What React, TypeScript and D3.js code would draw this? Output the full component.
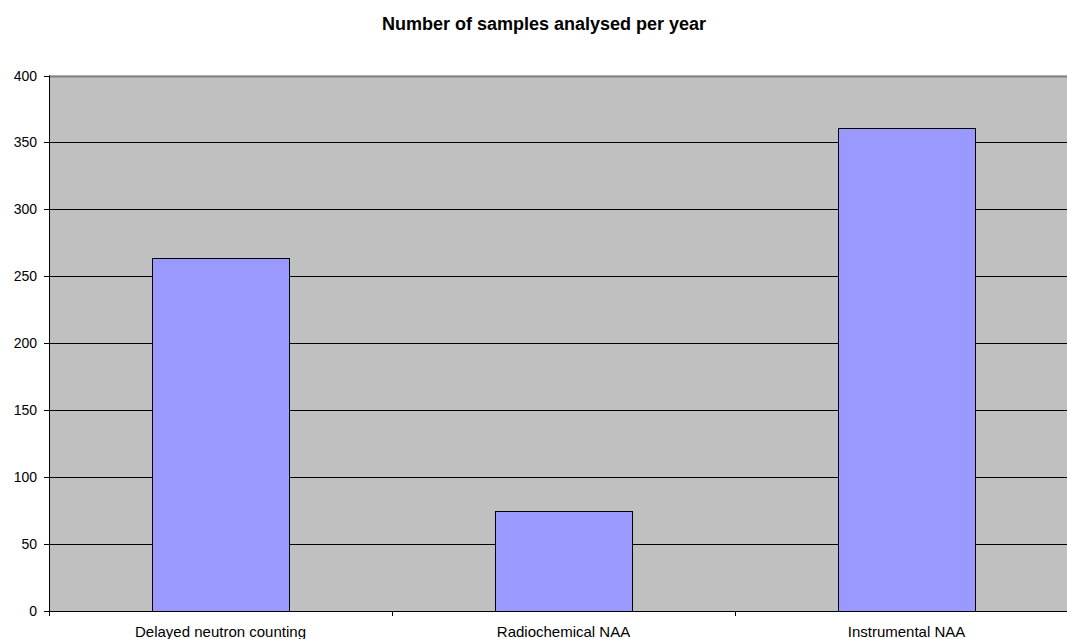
import React from "react";
import * as d3 from "d3";

// Samples analysed per year, by technique
const categories: string[] = ["Delayed neutron counting", "Radiochemical NAA", "Instrumental NAA"];
const samples: number[] = [264, 75, 361];
const yTicks: number[] = [0, 50, 100, 150, 200, 250, 300, 350, 400];

const W = 1067;
const H = 639;
const plot = { left: 49, right: 1078, top: 75.5, bottom: 611 };

export default function App() {
  const x = d3
    .scaleBand<string>()
    .domain(categories)
    .range([plot.left, plot.right])
    .paddingInner(0)
    .paddingOuter(0);
  const y = d3.scaleLinear().domain([0, 400]).range([plot.bottom, plot.top]);
  const barW = x.bandwidth() * 0.4;
  const font = "Arial, 'Liberation Sans', sans-serif";
  const snap = (v: number) => Math.round(v) + 0.5;

  return (
    <svg
      width={W}
      height={H}
      style={{ position: "absolute", left: 0, top: 0, display: "block" }}
      fontFamily={font}
    >
      <rect x={0} y={0} width={W} height={H} fill="#ffffff" />
      <text x={544} y={30} textAnchor="middle" fontSize={18} fontWeight="bold" fill="#000">
        Number of samples analysed per year
      </text>

      {/* plot background */}
      <rect
        x={plot.left}
        y={plot.top}
        width={plot.right - plot.left}
        height={plot.bottom - plot.top}
        fill="#c0c0c0"
      />

      {/* horizontal gridlines */}
      {yTicks.slice(1).map((t) => (
        <line
          key={t}
          x1={plot.left}
          x2={plot.right}
          y1={snap(y(t))}
          y2={snap(y(t))}
          stroke={t === 400 ? "#808080" : "#000"}
          strokeWidth={t === 400 ? 2 : 1}
        />
      ))}

      {/* bars */}
      {categories.map((c, i) => {
        const cx = (x(c) as number) + x.bandwidth() / 2;
        return (
          <rect
            key={c}
            x={snap(cx - barW / 2)}
            y={snap(y(samples[i]))}
            width={Math.round(barW)}
            height={Math.round(y(0) - y(samples[i]))}
            fill="#9999ff"
            stroke="#000"
            strokeWidth={1}
          />
        );
      })}

      {/* y axis */}
      <line x1={snap(plot.left)} x2={snap(plot.left)} y1={plot.top} y2={plot.bottom} stroke="#000" />
      {yTicks.map((t) => (
        <g key={t}>
          <line x1={plot.left - 5} x2={plot.left} y1={snap(y(t))} y2={snap(y(t))} stroke="#000" />
          <text x={37} y={y(t) + 5} textAnchor="end" fontSize={14} fill="#000">
            {t}
          </text>
        </g>
      ))}

      {/* x axis */}
      <line x1={plot.left} x2={plot.right} y1={snap(plot.bottom)} y2={snap(plot.bottom)} stroke="#000" />
      {categories.map((c) => (
        <line
          key={c}
          x1={snap(x(c) as number)}
          x2={snap(x(c) as number)}
          y1={plot.bottom}
          y2={plot.bottom + 5}
          stroke="#000"
        />
      ))}
      {categories.map((c) => (
        <text
          key={c}
          x={(x(c) as number) + x.bandwidth() / 2}
          y={637}
          textAnchor="middle"
          fontSize={15}
          fill="#000"
        >
          {c}
        </text>
      ))}
    </svg>
  );
}
